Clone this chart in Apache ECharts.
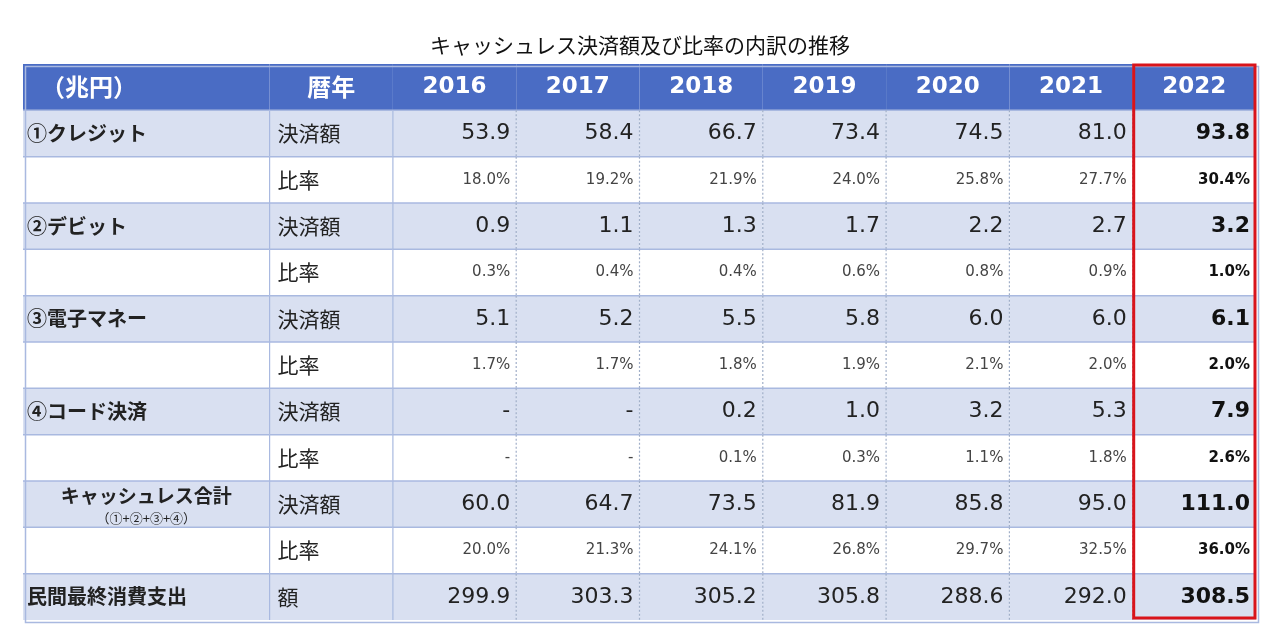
<!DOCTYPE html>
<html>
<head>
<meta charset="utf-8">
<script src="https://cdn.jsdelivr.net/npm/echarts@6/dist/echarts.min.js"></script>
<style>html,body{margin:0;padding:0;background:#fff}#chart{width:1280px;height:643px}</style>
</head>
<body>
<div id="chart"></div>
<script>
var years = ['2016', '2017', '2018', '2019', '2020', '2021', '2022'];
var rowNames = ['①クレジット', '', '②デビット', '', '③電子マネー', '', '④コード決済', '', 'キャッシュレス合計', '', '民間最終消費支出'];
var rowKinds = ['決済額', '比率', '決済額', '比率', '決済額', '比率', '決済額', '比率', '決済額', '比率', '額'];
var credit = ['53.9', '58.4', '66.7', '73.4', '74.5', '81.0', '93.8'];
var creditRate = ['18.0%', '19.2%', '21.9%', '24.0%', '25.8%', '27.7%', '30.4%'];
var debit = ['0.9', '1.1', '1.3', '1.7', '2.2', '2.7', '3.2'];
var debitRate = ['0.3%', '0.4%', '0.4%', '0.6%', '0.8%', '0.9%', '1.0%'];
var emoney = ['5.1', '5.2', '5.5', '5.8', '6.0', '6.0', '6.1'];
var emoneyRate = ['1.7%', '1.7%', '1.8%', '1.9%', '2.1%', '2.0%', '2.0%'];
var code = ['-', '-', '0.2', '1.0', '3.2', '5.3', '7.9'];
var codeRate = ['-', '-', '0.1%', '0.3%', '1.1%', '1.8%', '2.6%'];
var total = ['60.0', '64.7', '73.5', '81.9', '85.8', '95.0', '111.0'];
var totalRate = ['20.0%', '21.3%', '24.1%', '26.8%', '29.7%', '32.5%', '36.0%'];
var consumption = ['299.9', '303.3', '305.2', '305.8', '288.6', '292.0', '308.5'];

var body = [credit, creditRate, debit, debitRate, emoney, emoneyRate, code, codeRate, total, totalRate, consumption];
var rowCats = ['h'].concat(body.map(function (r, i) { return 'r' + i; }));

// cells: [x0, x1, row, text, type]
var cells = [];
cells.push([0, 2, 0, '（兆円）', 'hl']);
cells.push([2, 3, 0, '暦年', 'hk']);
years.forEach(function (y, j) { cells.push([3 + j, 4 + j, 0, y, 'hc']); });
body.forEach(function (vals, i) {
    var r = i + 1;
    cells.push([0, 2, r, rowNames[i], i === 8 ? 'total' : 'name']);
    cells.push([2, 3, r, rowKinds[i], 'kind']);
    vals.forEach(function (v, j) {
        var rate = rowKinds[i] === '比率';
        cells.push([3 + j, 4 + j, r, v, (rate ? 'rate' : 'val') + (j === 6 ? 'B' : '')]);
    });
});

var FONT = '"Noto Sans CJK JP", sans-serif';
var NUM = '"DejaVu Sans", sans-serif';
var LINE = '#A9B9E0';

function renderCell(params, api) {
    var x0 = api.value(0), x1 = api.value(1), row = api.value(2);
    var p0 = api.coord([x0, row]), p1 = api.coord([x1, row]);
    var h = api.size([0, 1])[1];
    var top = p0[1] - h / 2, left = p0[0], w = p1[0] - p0[0];
    var d = cells[params.dataIndex];
    var type = d[4], text = d[3];
    var fill = row === 0 ? '#4A6CC4' : (row % 2 === 1 ? '#D9E0F1' : '#ffffff');
    var children = [{ type: 'rect', shape: { x: left, y: top, width: w, height: h }, style: { fill: fill } }];
    if (row > 0) {
        children.push({ type: 'line', shape: { x1: left, y1: top, x2: left + w, y2: top }, style: { stroke: LINE, lineWidth: 1.5 } });
        if (x0 > 0) {
            children.push({ type: 'line', shape: { x1: left, y1: top, x2: left, y2: top + h },
                style: { stroke: x0 === 2 || x0 === 3 ? LINE : '#A0AEC8', lineWidth: 1.2, lineDash: x0 > 3 ? [2, 2] : null } });
        }
    }
    var st = { fill: '#222', font: '22px ' + NUM, textVerticalAlign: 'middle', textAlign: 'left' };
    var tx = left + 8, ty = top + h / 2;
    if (type === 'hl') { st.fill = '#fff'; st.font = 'bold 24px ' + FONT; tx = left + 18; }
    else if (type === 'hk') { st.fill = '#fff'; st.font = 'bold 24px ' + FONT; st.textAlign = 'center'; tx = left + w / 2; }
    else if (type === 'hc') { st.fill = '#fff'; st.font = 'bold 23px ' + NUM; st.textAlign = 'center'; tx = left + w / 2; }
    else if (type === 'name') { st.font = 'bold 20px ' + FONT; tx = left + 4; }
    else if (type === 'kind') { st.font = '21px ' + FONT; }
    else if (type === 'total') {
        st.font = 'bold 19px ' + FONT; st.textAlign = 'center'; tx = left + w / 2; ty = top + h / 2 - 8;
        children.push({ type: 'text', style: { text: '（①+②+③+④）', x: tx, y: top + h / 2 + 14, fill: '#222',
            font: '13px ' + FONT, textAlign: 'center', textVerticalAlign: 'middle' } });
    }
    else {
        st.textAlign = 'right'; tx = left + w - 6;
        var bold = type.slice(-1) === 'B';
        if (type.indexOf('rate') === 0) { st.font = (bold ? 'bold 15px ' : '15px ') + NUM; st.fill = bold ? '#111' : '#444'; }
        else { st.font = (bold ? 'bold 22px ' : '22px ') + NUM; st.fill = bold ? '#111' : '#222'; }
    }
    st.text = text; st.x = tx; st.y = ty;
    children.push({ type: 'text', style: st });
    return { type: 'group', children: children };
}

function renderFrame(params, api) {
    var p0 = api.coord([api.value(0), api.value(2)]);
    var p1 = api.coord([api.value(1), api.value(3)]);
    var h = api.size([0, 1])[1];
    return { type: 'rect', shape: { x: p0[0] + 1, y: p0[1] - h / 2 + 1, width: p1[0] - p0[0] - 2, height: p1[1] - p0[1] + h - 3 },
        style: { fill: 'none', stroke: '#D9141B', lineWidth: 3 } };
}

var myChart = echarts.init(document.getElementById('chart'));
myChart.setOption({
    animation: false,
    title: {
        text: 'キャッシュレス決済額及び比率の内訳の推移',
        left: 'center', top: 30,
        textStyle: { fontFamily: FONT, fontSize: 21, fontWeight: 'normal', color: '#111' }
    },
    grid: { left: 23, right: 24, top: 64, bottom: 23 },
    xAxis: { type: 'value', min: 0, max: 10, show: false },
    yAxis: { type: 'category', data: rowCats, inverse: true, show: false },
    series: [
        { type: 'custom', renderItem: renderCell, data: cells.map(function (c) { return [c[0], c[1], c[2]]; }), encode: { x: [0, 1], y: 2 }, silent: true },
        { type: 'custom', renderItem: renderFrame, data: [[9, 10, 0, 11]], encode: { x: [0, 1], y: [2, 3] }, z: 5, silent: true }
    ],
    graphic: [{ type: 'rect', left: 23, top: 64, shape: { width: 1233, height: 556 }, style: { fill: 'none', stroke: LINE, lineWidth: 1.5 }, z: 4 }]
});
</script>
</body>
</html>
